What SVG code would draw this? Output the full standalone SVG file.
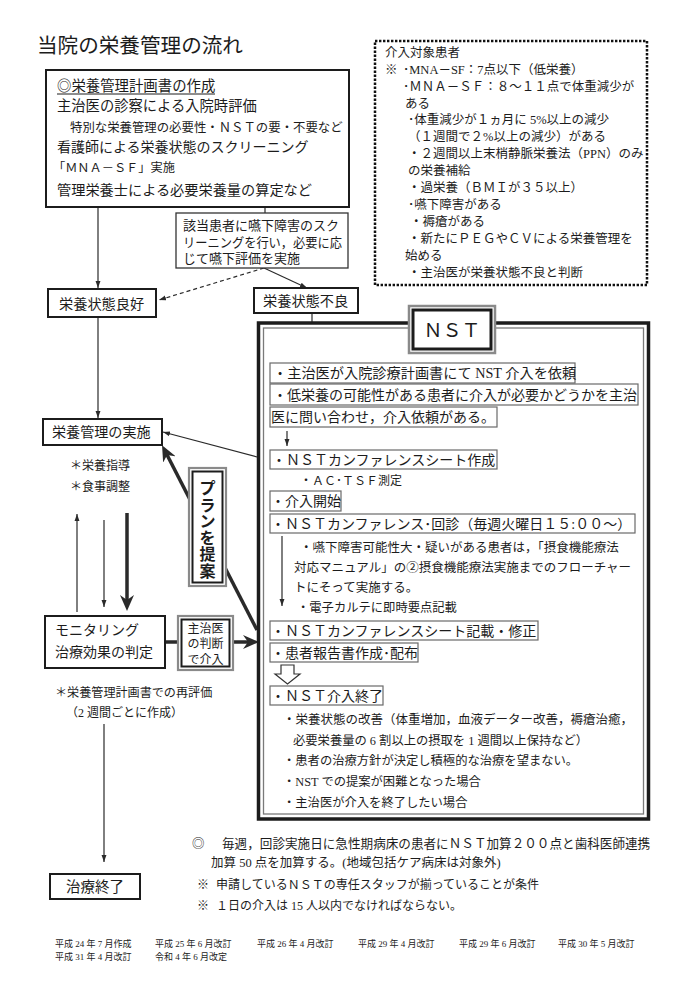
<svg xmlns="http://www.w3.org/2000/svg" width="696" height="1000" viewBox="0 0 696 1000">
<defs>
<style>
text{font-family:"Liberation Serif","Noto Sans CJK JP",serif;fill:#1c1c1c}
.f14{font-size:14px}
.f125{font-size:12.5px}
.f123{font-size:12.3px}
.f12{font-size:12px}
.f9{font-size:9px}
.box{fill:#fff;stroke:#1c1c1c;stroke-width:2}
.item{fill:#fff;stroke:#6a6a6a;stroke-width:1.2}
.ln{fill:none;stroke:#2a2a2a;stroke-width:1.2}
.thick{fill:none;stroke:#2a2a2a;stroke-width:3.5}
.dash{stroke-dasharray:4 3}
.outer{fill:#fff;stroke:#8a8a8a;stroke-width:2.2}
.inner{fill:none;stroke:#1c1c1c;stroke-width:2}
.mid{text-anchor:middle}
</style>
<marker id="ah" viewBox="0 0 10 10" refX="10" refY="5" markerWidth="7" markerHeight="7" markerUnits="userSpaceOnUse" orient="auto"><path d="M0,1.5 L10,5 L0,8.5 z" fill="#2a2a2a"/></marker>
<marker id="ahb" viewBox="0 0 16 14" refX="8" refY="7" markerWidth="16" markerHeight="14" markerUnits="userSpaceOnUse" orient="auto"><path d="M0,0 L16,7 L0,14 L5,7 z" fill="#2a2a2a"/></marker>
</defs>
<rect width="696" height="1000" fill="#fff"/>

<g id="title"><text x="37" y="53" style="font-size:20.6px">当院の栄養管理の流れ</text></g>

<g id="connectors">
<line class="ln" x1="98" y1="207" x2="98" y2="288" marker-end="url(#ah)"/>
<line class="ln" x1="265" y1="207" x2="265" y2="213"/>
<line class="ln dash" x1="264" y1="268" x2="159" y2="300" marker-end="url(#ah)"/>
<line class="ln" x1="264" y1="268" x2="307" y2="288" marker-end="url(#ah)"/>
<line class="ln" x1="312" y1="313" x2="312" y2="323"/>
<line class="ln" x1="98" y1="317" x2="98" y2="418" marker-end="url(#ah)"/>
<line class="ln" x1="257" y1="457" x2="163" y2="432" marker-end="url(#ah)"/>
<line class="thick" x1="257" y1="630" x2="165.7" y2="452.3" marker-end="url(#ahb)"/>
<line class="ln" x1="77" y1="612" x2="77" y2="514" marker-end="url(#ah)"/>
<line class="ln" x1="104" y1="520" x2="104" y2="607" marker-end="url(#ah)"/>
<line class="thick" x1="127" y1="513" x2="127" y2="603" marker-end="url(#ahb)"/>
<line class="thick" x1="165" y1="642" x2="178" y2="642"/>
<line class="thick" x1="233" y1="642" x2="251" y2="642" marker-end="url(#ahb)"/>
<line class="ln" x1="104" y1="724" x2="104" y2="862" marker-end="url(#ah)"/>
</g>

<g id="plan-creation">
<rect class="box" x="46" y="70" width="303" height="137"/>
<text x="57" y="90.5" style="font-size:14.4px">◎栄養管理計画書の作成</text>
<line x1="57" y1="94" x2="215" y2="94" stroke="#1c1c1c" stroke-width="1"/>
<text x="57" y="110.5" style="font-size:14.3px">主治医の診察による入院時評価</text>
<text x="70" y="131.5" style="font-size:12.4px">特別な栄養管理の必要性・ＮＳＴの要・不要など</text>
<text x="57" y="152.3" class="f14">看護師による栄養状態のスクリーニング</text>
<text x="53" y="171.6" style="font-size:12.2px">「ＭＮＡ－ＳＦ」実施</text>
<text x="57" y="195.4" style="font-size:14.2px">管理栄養士による必要栄養量の算定など</text>
</g>

<g id="target-patients">
<rect x="375" y="41" width="272" height="244" fill="#fff" stroke="#111" stroke-width="2.5" stroke-dasharray="2.4 1.6"/>
<text class="f125" x="385" y="56.8">介入対象患者</text>
<text class="f125" x="385" y="73.7">※</text>
<text class="f125" x="403" y="73.7">･MNA－SF：7点以下（低栄養）</text>
<text class="f125" x="403" y="90.6">･ＭＮＡ－ＳＦ：８～１１点で体重減少が</text>
<text class="f125" x="405" y="107.5">ある</text>
<text class="f125" x="408" y="124.4">･体重減少が１ヵ月に 5%以上の減少</text>
<text class="f125" x="408" y="141.3">（１週間で２%以上の減少）がある</text>
<text class="f125" x="408" y="158.2">・２週間以上末梢静脈栄養法（PPN）のみ</text>
<text class="f125" x="408" y="175.1">の栄養補給</text>
<text class="f125" x="408" y="192">・過栄養（ＢＭＩが３５以上）</text>
<text class="f125" x="408" y="208.9">･嚥下障害がある</text>
<text class="f125" x="410" y="225.8">・褥瘡がある</text>
<text class="f125" x="408" y="242.7">・新たにＰＥＧやＣＶによる栄養管理を</text>
<text class="f125" x="405" y="259.6">始める</text>
<text class="f125" x="408" y="276.5">・主治医が栄養状態不良と判断</text>
</g>

<g id="swallow-screening">
<rect x="176" y="213" width="172" height="55" fill="#fff" stroke="#333" stroke-width="1.3"/>
<text x="183" y="230" style="font-size:13px">該当患者に嚥下障害のスク</text>
<text x="183" y="247" style="font-size:13px" textLength="159" lengthAdjust="spacingAndGlyphs">リーニングを行い，必要に応</text>
<text x="183" y="263" style="font-size:13px">じて嚥下評価を実施</text>
</g>

<g id="status-good">
<rect class="box" x="48" y="289" width="108" height="28"/>
<text x="59" y="308.5" style="font-size:14.2px">栄養状態良好</text>
</g>

<g id="status-poor">
<rect class="box" x="254" y="288" width="104" height="25"/>
<text x="263" y="305.8" style="font-size:14.2px">栄養状態不良</text>
</g>

<g id="nutrition-management">
<rect class="box" x="43" y="419" width="119" height="26"/>
<text x="52" y="437.3" style="font-size:14.1px">栄養管理の実施</text>
<text class="f12" x="70" y="469.6">＊栄養指導</text>
<text class="f12" x="70" y="490.6">＊食事調整</text>
</g>

<g id="plan-proposal">
<rect class="outer" x="189" y="468" width="37" height="118"/>
<rect class="inner" x="192.5" y="471.5" width="30" height="111"/>
<text class="mid" x="207.5" y="494" style="font-size:16px;font-weight:700">プ</text>
<text class="mid" x="207.5" y="510.5" style="font-size:16px;font-weight:700">ラ</text>
<text class="mid" x="207.5" y="527" style="font-size:16px;font-weight:700">ン</text>
<text class="mid" x="207.5" y="543.5" style="font-size:16px;font-weight:700">を</text>
<text class="mid" x="207.5" y="560" style="font-size:16px;font-weight:700">提</text>
<text class="mid" x="207.5" y="576.5" style="font-size:16px;font-weight:700">案</text>
</g>

<g id="monitoring">
<rect class="box" x="45" y="616" width="120" height="52"/>
<text class="f14" x="55" y="635.3">モニタリング</text>
<text class="f14" x="55" y="657.3">治療効果の判定</text>
<text x="55" y="696.6" style="font-size:12.1px">＊栄養管理計画書での再評価</text>
<text class="f12" x="66" y="716.6">（2 週間ごとに作成）</text>
</g>

<g id="physician-judgement">
<rect class="outer" x="178" y="616" width="55" height="54"/>
<rect class="inner" x="181.5" y="619.5" width="48" height="47"/>
<text class="f12 mid" x="205.5" y="632.5">主治医</text>
<text class="f12 mid" x="205.5" y="648">の判断</text>
<text class="f12 mid" x="205.5" y="663.5">で介入</text>
</g>

<g id="treatment-end">
<rect class="box" x="50" y="874" width="90" height="25"/>
<text class="mid" x="95" y="892" style="font-size:14.5px">治療終了</text>
</g>

<g id="nst">
<rect x="258.5" y="323" width="390" height="496" fill="#fff" stroke="#1c1c1c" stroke-width="3.5"/>
<rect x="263.5" y="328" width="380" height="486" fill="none" stroke="#7a7a7a" stroke-width="1.3"/>
<rect x="409" y="306" width="86" height="47" fill="#fff" stroke="#8a8a8a" stroke-width="2.5"/>
<rect x="413" y="310" width="78" height="39" fill="none" stroke="#1c1c1c" stroke-width="3"/>
<text class="mid" x="452" y="336.5" style="font-size:19px">ＮＳＴ</text>

<rect class="item" x="270" y="363" width="305" height="20"/>
<text x="273" y="378.3" style="font-size:14.2px">・主治医が入院診療計画書にて NST 介入を依頼</text>
<rect class="item" x="270" y="384" width="368" height="21"/>
<text class="f14" x="273" y="399.8">・低栄養の可能性がある患者に介入が必要かどうかを主治</text>
<rect class="item" x="270" y="407" width="227" height="20"/>
<text class="f14" x="271" y="422.3">医に問い合わせ，介入依頼がある。</text>
<line class="ln" x1="287" y1="431" x2="287" y2="446" marker-end="url(#ah)"/>
<rect class="item" x="270" y="450" width="227" height="19"/>
<text class="f14" x="272" y="464.8">・ＮＳＴカンファレンスシート作成</text>
<text class="f12" x="300" y="484.5">・ＡＣ･ＴＳＦ測定</text>
<rect class="item" x="270" y="491" width="71" height="20"/>
<text class="f14" x="271" y="506.3">・介入開始</text>
<rect class="item" x="270" y="514" width="365" height="19"/>
<text class="f14" x="271" y="528.8">・ＮＳＴカンファレンス･回診（毎週火曜日１５:００～）</text>
<line class="ln" x1="282" y1="536" x2="282" y2="606" marker-end="url(#ah)"/>
<text class="f125" x="300" y="551.7">・嚥下障害可能性大・疑いがある患者は，「摂食機能療法</text>
<text class="f125" x="294" y="571.7">対応マニュアル」の②摂食機能療法実施までのフローチャー</text>
<text class="f125" x="294" y="591.7">トにそって実施する。</text>
<text class="f123" x="297" y="611.7">・電子カルテに即時要点記載</text>
<rect class="item" x="270" y="621" width="268" height="19"/>
<text class="f14" x="271" y="635.8">・ＮＳＴカンファレンスシート記載・修正</text>
<rect class="item" x="270" y="643" width="148" height="19"/>
<text class="f14" x="271" y="657.8">・患者報告書作成･配布</text>
<path d="M281,665 L294,665 L294,674 L300,674 L287.5,684 L275,674 L281,674 Z" fill="#fff" stroke="#333" stroke-width="1.2"/>
<rect class="item" x="270" y="686" width="113" height="19"/>
<text class="f14" x="271" y="700.8">・ＮＳＴ介入終了</text>
<text class="f125" x="283" y="723.7">・栄養状態の改善（体重増加，血液データー改善，褥瘡治癒，</text>
<text class="f123" x="293" y="744.7">必要栄養量の 6 割以上の摂取を 1 週間以上保持など）</text>
<text class="f123" x="283" y="764.7">・患者の治療方針が決定し積極的な治療を望まない。</text>
<text class="f123" x="283" y="785.7">・NST での提案が困難となった場合</text>
<text class="f123" x="283" y="806.7">・主治医が介入を終了したい場合</text>
</g>

<g id="notes">
<text class="f125" x="192" y="847.7">◎</text>
<text x="222" y="847.7" style="font-size:12.6px">毎週，回診実施日に急性期病床の患者にＮＳＴ加算２００点と歯科医師連携</text>
<text class="f125" x="211" y="866.5">加算 50 点を加算する。(地域包括ケア病床は対象外)</text>
<text class="f12" x="197" y="888.5">※</text>
<text class="f12" x="216" y="888.5">申請しているＮＳＴの専任スタッフが揃っていることが条件</text>
<text class="f12" x="197" y="909.5">※</text>
<text class="f12" x="216" y="909.5">１日の介入は 15 人以内でなければならない。</text>
</g>

<g id="revision-history">
<text class="f9" x="55" y="946.5">平成 24 年 7 月作成</text>
<text class="f9" x="155" y="946.5">平成 25 年 6 月改訂</text>
<text class="f9" x="257" y="946.5">平成 26 年 4 月改訂</text>
<text class="f9" x="358" y="946.5">平成 29 年 4 月改訂</text>
<text class="f9" x="459" y="946.5">平成 29 年 6 月改訂</text>
<text class="f9" x="558" y="946.5">平成 30 年 5 月改訂</text>
<text class="f9" x="55" y="959.5">平成 31 年 4 月改訂</text>
<text class="f9" x="155" y="959.5">令和 4 年 6 月改定</text>
</g>
</svg>
